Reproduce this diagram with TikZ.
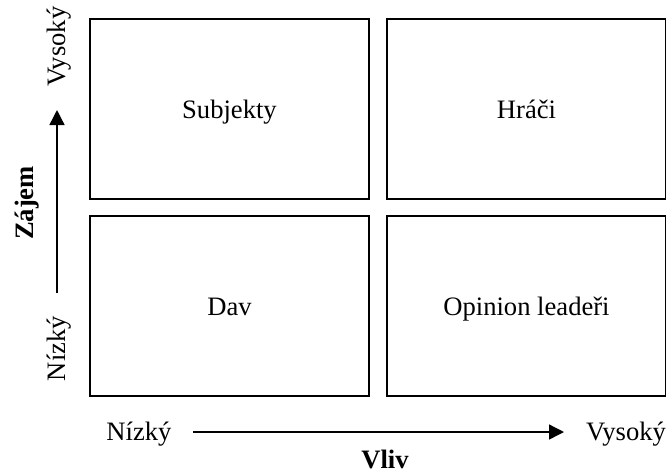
\documentclass[tikz,border=0pt]{standalone}
\usepackage{fontspec}
\setmainfont{Liberation Serif}
\usetikzlibrary{arrows.meta}
\begin{document}
\begin{tikzpicture}[x=0.5pt,y=-0.5pt,
  quad/.style={draw,line width=1pt,minimum width=139.5pt,minimum height=90pt,
    inner sep=0pt,text height=12pt,text depth=2.5pt,font=\fontsize{13.3}{15}\selectfont},
  lbl/.style={font=\fontsize{13.3}{15}\selectfont,inner sep=0pt,anchor=base},
  title/.style={font=\fontsize{13.3}{15}\selectfont\bfseries,inner sep=0pt,anchor=base},
  axis/.style={line width=0.7pt,-{Triangle[length=7.5pt,width=7.5pt]}}]
\useasboundingbox (0,0) rectangle (666,473);
% four quadrants
\node[quad] (subj) at (229.5,108.5) {Subjekty};
\node[quad] (hraci) at (526.5,108.5) {Hráči};
\node[quad] (dav) at (229.5,305.5) {Dav};
\node[quad] (opin) at (526.5,305.5) {Opinion leadeři};
% horizontal axis
\node[lbl] (hlo) at (139,440) {Nízký};
\node[lbl] (hhi) at (626,440) {Vysoký};
\node[title] (vliv) at (385,468) {Vliv};
\coordinate (hs) at (193,432);
\coordinate (he) at (564,432);
\draw[axis] (hs) -- (he);
% vertical axis
\node[lbl,rotate=90] (vlo) at (66,348.5) {Nízký};
\node[lbl,rotate=90] (vhi) at (66,46.5) {Vysoký};
\node[title,rotate=90] (zajem) at (33,203) {Zájem};
\coordinate (vs) at (57,293);
\coordinate (ve) at (57,110);
\draw[axis] (vs) -- (ve);
\end{tikzpicture}
\end{document}
